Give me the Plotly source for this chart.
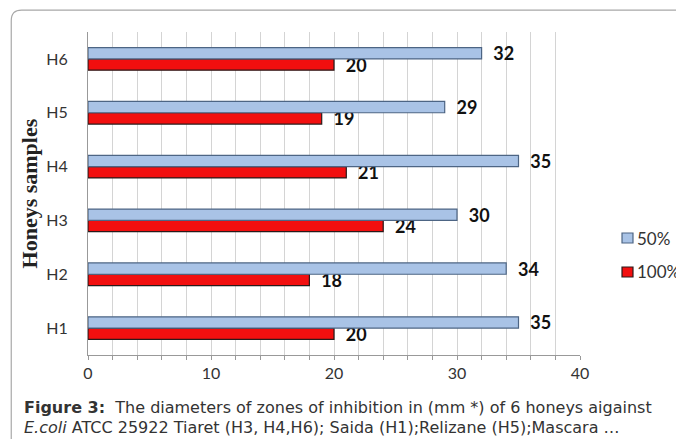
import plotly.graph_objects as go

categories = ["H1", "H2", "H3", "H4", "H5", "H6"]
values_50 = [35, 34, 30, 35, 29, 32]
values_100 = [20, 18, 24, 21, 19, 20]
series_names = ["50%", "100%"]
x_ticks = list(range(0, 41, 2))
x_tick_labels = [str(v) if v % 10 == 0 else "" for v in x_ticks]

label_font = dict(family="Lato, Open Sans, sans-serif", size=18, color="#111", weight="bold")
blue, blue_edge = "#a9c3e6", "#4d6584"
red, red_edge = "#f20f0f", "#2a1a1a"

fig = go.Figure()
fig.add_trace(go.Bar(
    y=categories, x=values_100, name=series_names[1], orientation="h",
    marker=dict(color=red, line=dict(color=red_edge, width=1.2)),
    text=["  " + str(v) for v in values_100], textposition="outside",
    textfont=label_font, constraintext="none", cliponaxis=False, showlegend=False,
))
fig.add_trace(go.Bar(
    y=categories, x=values_50, name=series_names[0], orientation="h",
    marker=dict(color=blue, line=dict(color=blue_edge, width=1.2)),
    text=["  " + str(v) for v in values_50], textposition="outside",
    textfont=label_font, constraintext="none", cliponaxis=False, showlegend=False,
))

fig.update_layout(
    width=676, height=439,
    margin=dict(l=88, r=96, t=32, b=84, autoexpand=False),
    paper_bgcolor="white", plot_bgcolor="white",
    barmode="group", bargap=0.58, bargroupgap=0.0,
    showlegend=False,
    font=dict(family="Lato, Open Sans, sans-serif", size=16, color="#333"),
    xaxis=dict(range=[0, 40], tickmode="array", tickvals=x_ticks, ticktext=x_tick_labels,
               showgrid=True, gridcolor="#d4d4d4", gridwidth=1,
               showline=True, linecolor="#999", linewidth=1,
               ticks="outside", ticklen=4, tickcolor="#999",
               tickfont=dict(size=16, color="#333"), zeroline=False, automargin=False),
    yaxis=dict(showline=True, linecolor="#999", linewidth=1, ticks="",
               tickfont=dict(size=16, color="#333"), ticklabelstandoff=16, automargin=False),
)

# custom legend (50% on top, 100% below)
legend_items = [(series_names[0], blue, blue_edge, 0.3622), (series_names[1], red, red_edge, 0.257)]
for name, col, edge, yc in legend_items:
    fig.add_shape(type="rect", xref="paper", yref="paper",
                  x0=1.0854, x1=1.1077, y0=yc - 0.0155, y1=yc + 0.0155,
                  fillcolor=col, line=dict(color=edge, width=1.2))
    fig.add_annotation(text=name, xref="paper", yref="paper", x=1.1118, y=yc,
                       xanchor="left", yanchor="middle", showarrow=False,
                       font=dict(family="Lato, Open Sans, sans-serif", size=17, color="#333"))

fig.add_annotation(text="<b>Honeys samples</b>", textangle=-90, xref="paper", yref="paper",
                   x=-0.118, y=0.50, xanchor="center", yanchor="middle", showarrow=False,
                   font=dict(family="Liberation Serif, Times New Roman, serif", size=22, color="#222"))

fig.add_annotation(text="<b>Figure 3:</b>  The diameters of zones of inhibition in (mm *) of 6 honeys aigainst",
                   xref="paper", yref="paper", x=-0.134, y=-0.164, xanchor="left", yanchor="middle",
                   showarrow=False, font=dict(family="DejaVu Sans, sans-serif", size=16, color="#333"))
fig.add_annotation(text="<i>E.coli</i> ATCC 25922 Tiaret (H3, H4,H6); Saida (H1);Relizane (H5);Mascara …",
                   xref="paper", yref="paper", x=-0.134, y=-0.226, xanchor="left", yanchor="middle",
                   showarrow=False, font=dict(family="DejaVu Sans, sans-serif", size=16, color="#333"))

# rounded panel border
fig.add_shape(type="path", xref="paper", yref="paper", layer="below",
              path="M -0.156 -0.30 L -0.156 1.035 Q -0.156 1.068 -0.135 1.068 L 1.2 1.068",
              line=dict(color="#a8a8a8", width=1.2))

fig.write_html("out.html", config={"displayModeBar": False},
               post_script="document.body.style.margin='0';")
